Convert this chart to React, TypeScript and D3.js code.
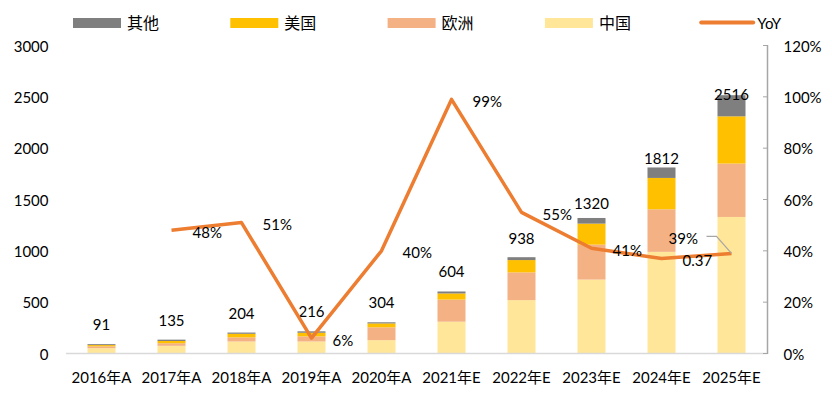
import React from 'react';
import * as d3 from 'd3';

// categories and series (GW-ish units)
const years = ['2016年A', '2017年A', '2018年A', '2019年A', '2020年A', '2021年E', '2022年E', '2023年E', '2024年E', '2025年E'];
const china = [52, 75, 117, 117, 130, 310, 520, 720, 990, 1330];
const europe = [18, 25, 40, 50, 125, 215, 270, 340, 415, 520];
const usa = [12, 22, 35, 35, 38, 60, 120, 205, 305, 460];
const other = [9, 13, 12, 14, 11, 19, 28, 55, 102, 206];
const yoy: (number | null)[] = [null, 0.48, 0.51, 0.06, 0.40, 0.99, 0.55, 0.41, 0.37, 0.39];
const yoyLabels = ['', '48%', '51%', '6%', '40%', '99%', '55%', '41%', '0.37', '39%'];
const leftTicks = [0, 500, 1000, 1500, 2000, 2500, 3000];
const rightTicks = [0, 0.2, 0.4, 0.6, 0.8, 1.0, 1.2];

const seriesKeys = ['china', 'europe', 'usa', 'other'];
const seriesNames: Record<string, string> = { other: '其他', usa: '美国', europe: '欧洲', china: '中国' };
const colors: Record<string, string> = { other: '#7f7f7f', usa: '#ffc000', europe: '#f4b183', china: '#ffe699' };
const lineColor = '#ed7d31';

const W = 832;
const H = 397;
const font = "Lato, 'Noto Sans CJK SC', sans-serif";

const App: React.FC = () => {
  const rows = years.map((y, i) => ({ year: y, china: china[i], europe: europe[i], usa: usa[i], other: other[i] }));
  const stacked = d3.stack<any>().keys(seriesKeys)(rows);
  const totals = rows.map(r => r.china + r.europe + r.usa + r.other);

  const x = d3.scaleBand<string>().domain(years).range([66.5, 766.5]).paddingInner(0.6).paddingOuter(0.3);
  const y = d3.scaleLinear().domain([0, 3000]).range([353.5, 45.5]);
  const y2 = d3.scaleLinear().domain([0, 1.2]).range([353.5, 45.5]);
  const cx = (d: string) => (x(d) as number) + x.bandwidth() / 2;

  const line = d3.line<number | null>()
    .defined(d => d !== null)
    .x((d, i) => cx(years[i]))
    .y(d => y2(d as number));

  // label lift above the bar top, shrinks for the tall bars (as in the source)
  const lift = (t: number) => 20 - Math.max(0, t - 900) * 0.0118;

  const legendItems = ['other', 'usa', 'europe', 'china'];
  const legendX = (i: number) => 73 + i * 157.3;

  const last = years.length - 1;
  const px = cx(years[last]);
  const py = y2(yoy[last] as number);

  return (
    <div style={{ position: 'fixed', left: 0, top: 0 }}>
      <svg width={W} height={H} style={{ display: 'block', fontFamily: font }}>
        <rect width={W} height={H} fill="#fff" />

        {/* legend */}
        {legendItems.map((k, i) => (
          <g key={k}>
            <rect x={legendX(i)} y={18} width={48} height={10} fill={colors[k]} />
            <text x={legendX(i) + 54} y={22.5} fontSize={16} dominantBaseline="central" fill="#000">{seriesNames[k]}</text>
          </g>
        ))}
        <line x1={legendX(4) - 1} x2={legendX(4) + 51} y1={22.5} y2={22.5} stroke={lineColor} strokeWidth={4} strokeLinecap="round" />
        <text x={legendX(4) + 55} y={22.5} fontSize={15} dominantBaseline="central">YoY</text>

        {/* left axis labels */}
        {leftTicks.map(t => (
          <text key={t} x={48.5} y={y(t)} fontSize={15} textAnchor="end" dominantBaseline="central" fill="#000">{t}</text>
        ))}

        {/* stacked bars */}
        {stacked.map(s => (
          <g key={s.key} fill={colors[s.key]}>
            {s.map((d, i) => (
              <rect key={i} x={x(years[i])} y={y(d[1])} width={x.bandwidth()} height={y(d[0]) - y(d[1])} />
            ))}
          </g>
        ))}

        {/* x axis */}
        <line x1={66} x2={767.5} y1={353.5} y2={353.5} stroke="#d9d9d9" strokeWidth={1.5} />
        {years.map(yr => (
          <text key={yr} x={cx(yr)} y={377} fontSize={15} textAnchor="middle" dominantBaseline="central">{yr}</text>
        ))}

        {/* right axis */}
        <line x1={767.5} x2={767.5} y1={45} y2={354} stroke="#a6a6a6" strokeWidth={1.5} />
        {rightTicks.map(t => (
          <g key={t}>
            <line x1={763} x2={767.5} y1={y2(t)} y2={y2(t)} stroke="#a6a6a6" strokeWidth={1} />
            <text x={783.5} y={y2(t)} fontSize={15} dominantBaseline="central">{`${Math.round(t * 100)}%`}</text>
          </g>
        ))}

        {/* total labels */}
        {totals.map((t, i) => (
          <text key={i} x={cx(years[i])} y={y(t) - lift(t)} fontSize={15} textAnchor="middle" dominantBaseline="central">{t}</text>
        ))}

        {/* YoY line */}
        <path d={line(yoy) || ''} fill="none" stroke={lineColor} strokeWidth={3.5} strokeLinejoin="round" />

        {/* YoY labels */}
        {yoy.map((v, i) => (v === null || i === last ? null : (
          <text key={i} x={cx(years[i]) + 21} y={y2(v) + 1.5} fontSize={15} dominantBaseline="central">{yoyLabels[i]}</text>
        )))}
        <text x={px - 63} y={py - 15.5} fontSize={15} dominantBaseline="central">{yoyLabels[last]}</text>
        <polyline points={`${px - 25},${py - 17} ${px - 15},${py - 17} ${px},${py}`} fill="none" stroke="#a6a6a6" strokeWidth={1.2} />
      </svg>
    </div>
  );
};

export default App;
